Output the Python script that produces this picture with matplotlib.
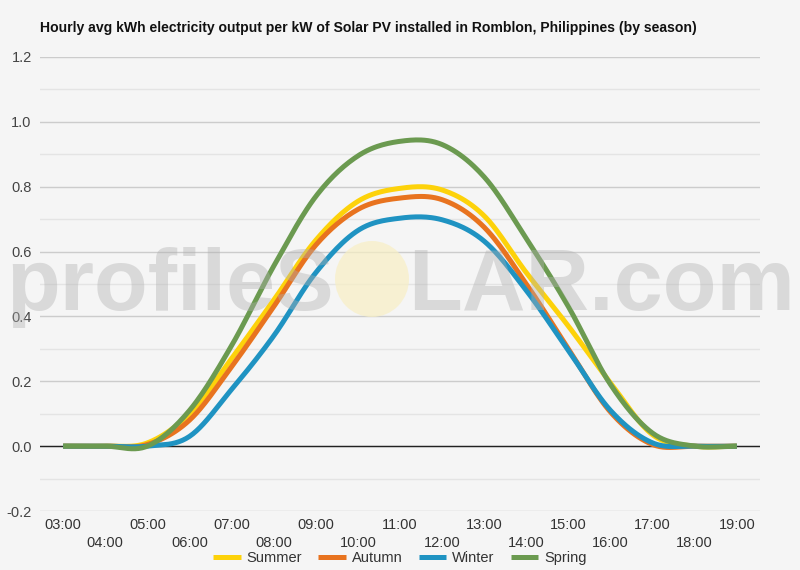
import numpy as np
import matplotlib
matplotlib.use("Agg")
import matplotlib.pyplot as plt
from matplotlib.patches import Ellipse

plt.rcParams['font.family'] = ['Liberation Sans', 'DejaVu Sans']

# Data (hourly averages, kWh per kW)
hours = list(range(3, 20))
hour_labels = ['%02d:00' % h for h in hours]
summer = [0, 0, 0.01, 0.10, 0.27, 0.45, 0.635, 0.755, 0.795, 0.79, 0.71, 0.535, 0.37, 0.195, 0.035, 0, 0]
autumn = [0, 0, 0.005, 0.08, 0.245, 0.43, 0.62, 0.73, 0.765, 0.76, 0.675, 0.50, 0.30, 0.105, 0.005, 0, 0]
winter = [0, 0, 0, 0.03, 0.175, 0.34, 0.535, 0.665, 0.703, 0.698, 0.632, 0.48, 0.295, 0.11, 0.01, 0, 0]
spring = [0, 0, 0, 0.11, 0.31, 0.555, 0.77, 0.895, 0.94, 0.93, 0.83, 0.64, 0.43, 0.19, 0.04, 0, 0]

series = [('Summer', summer, '#fdd20a'),
          ('Autumn', autumn, '#e8731f'),
          ('Winter', winter, '#1f93c2'),
          ('Spring', spring, '#6b9a50')]


def smooth(x, y, n=24):
    # catmull-rom style curve through the hourly points
    x = np.asarray(x, float)
    y = np.asarray(y, float)
    m = np.zeros_like(y)
    m[1:-1] = (y[2:] - y[:-2]) / 2.0
    xs, ys = [], []
    for i in range(len(x) - 1):
        t = np.linspace(0, 1, n, endpoint=False)
        h00 = 2 * t**3 - 3 * t**2 + 1
        h10 = t**3 - 2 * t**2 + t
        h01 = -2 * t**3 + 3 * t**2
        h11 = t**3 - t**2
        xs.append(x[i] + t * (x[i + 1] - x[i]))
        ys.append(h00 * y[i] + h10 * m[i] + h01 * y[i + 1] + h11 * m[i + 1])
    xs.append([x[-1]])
    ys.append([y[-1]])
    return np.concatenate(xs), np.concatenate(ys)


bg = '#f5f5f5'
fig = plt.figure(figsize=(8, 5.7), dpi=100, facecolor=bg)
ax = fig.add_axes([0.05, 0.1035, 0.90, 0.7965], facecolor=bg)

for name, vals, col in series:
    sx, sy = smooth(hours, vals)
    ax.plot(sx, sy, color=col, lw=3.6, label=name, solid_capstyle='butt', zorder=3)

ax.set_xlim(2.45, 19.55)
ax.set_ylim(-0.2, 1.2)

# grid
ax.set_yticks(np.arange(-0.2, 1.21, 0.2))
ax.set_yticks(np.arange(-0.1, 1.2, 0.2), minor=True)
ax.set_yticklabels(['%.1f' % v for v in np.arange(-0.2, 1.21, 0.2)])
ax.grid(axis='y', which='major', color='#cccccc', lw=1, zorder=0)
ax.grid(axis='y', which='minor', color='#e4e4e4', lw=1, zorder=0)
ax.axhline(0, color='#222222', lw=1, zorder=2)

# x labels on two rows
ax.set_xticks(hours[::2])
ax.set_xticklabels(hour_labels[::2])
ax.set_xticks(hours[1::2], minor=True)
ax.set_xticklabels(hour_labels[1::2], minor=True)
ax.tick_params(axis='x', which='major', length=0, pad=5, labelsize=10.5, labelcolor='#333333')
ax.tick_params(axis='x', which='minor', length=0, pad=18, labelsize=10.5, labelcolor='#333333')
ax.tick_params(axis='y', which='both', length=0, pad=6, labelsize=10.5, labelcolor='#444444')

for s in ax.spines.values():
    s.set_visible(False)

# watermark
ax_wm = fig.add_axes([0, 0, 1, 1], facecolor='none')
ax_wm.set_xlim(0, 800)
ax_wm.set_ylim(570, 0)
ax_wm.axis('off')
ax_wm.add_patch(Ellipse((372, 279), 74, 76, color='#f8efc4', alpha=0.7, lw=0))
wm_kw = dict(color='#b0b0b0', alpha=0.4, fontweight='bold', va='baseline')
t1 = ax_wm.text(334, 310, 'profileS', fontsize=60, ha='right', **wm_kw)
t2 = ax_wm.text(408, 310, 'LAR.com', fontsize=60, ha='left', **wm_kw)
r = fig.canvas.get_renderer()
for t, w in ((t1, 328), (t2, 387)):
    cur = t.get_window_extent(r).width
    t.set_fontsize(60 * w / cur)

fig.text(0.05, 1 - 28 / 570, 'Hourly avg kWh electricity output per kW of Solar PV installed in Romblon, Philippines (by season)',
         fontsize=10.1, fontweight='bold', va='center', ha='left', color='#111111')

fig.legend(loc='center', bbox_to_anchor=(0.5, 1 - 558 / 570), ncol=4, frameon=False,
           fontsize=10.5, handlelength=1.9, handletextpad=0.4, columnspacing=1.1,
           labelcolor='#333333')

fig.savefig('out.png', dpi=100, facecolor=bg)
